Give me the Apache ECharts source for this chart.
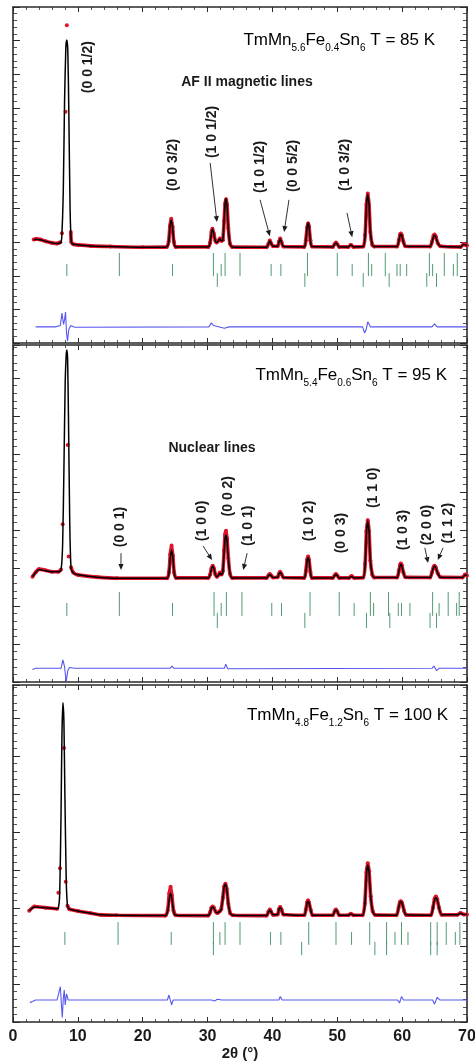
<!DOCTYPE html>
<html>
<head>
<meta charset="utf-8">
<script src="https://cdn.jsdelivr.net/npm/echarts/dist/echarts.min.js"></script>
<style>
  html, body { margin: 0; padding: 0; background: #ffffff; }
  #chart { width: 475px; height: 1061px; }
</style>
</head>
<body>
<div id="chart"></div>
<script>
// ---------- 2θ axis ----------
const X_MIN = 0, X_MAX = 70, X_STEP = 10;
const X_TICK_LABELS = ['0', '10', '20', '30', '40', '50', '60', '70'];
const X_NAME = '2θ (°)';

// ---------- TmMn5.6Fe0.4Sn6, 85 K ----------
const calc85 = [[3.2,307],[3.6,309],[4.2,307],[5.0,303],[6.0,298],[6.8,296],[7.3,298],[7.5,310],[7.75,450],[7.95,720],[8.15,880],[8.3,902],[8.45,870],[8.6,700],[8.8,400],[9.0,300],[9.3,294],[10,292],[12,289],[15,287],[20,285],
  [23.7,286],[24.0,300],[24.2,345],[24.4,366],[24.6,345],[24.8,300],[25.1,286],
  [30.1,286],[30.4,298],[30.6,328],[30.75,339],[30.95,325],[31.2,304],[31.4,299],[31.65,303],[31.9,310],[32.15,304],[32.35,305],[32.55,365],[32.7,415],[32.85,429],[33.0,410],[33.2,340],[33.45,295],[33.8,286],
  [39.1,285],[39.4,295],[39.6,304],[39.8,296],[40.1,288],[40.8,288],[41.0,300],[41.2,310],[41.4,300],[41.7,287],
  [44.9,286],[45.15,305],[45.35,345],[45.5,357],[45.65,345],[45.85,305],[46.1,287],
  [49.3,286],[49.6,294],[49.8,298],[50.0,294],[50.3,286],[51.7,286],[52.1,292],[52.5,286],
  [54.0,287],[54.3,320],[54.5,410],[54.7,443],[54.9,410],[55.1,330],[55.4,292],[55.7,287],
  [59.2,287],[59.5,305],[59.7,322],[59.8,324],[59.95,320],[60.2,300],[60.5,288],
  [64.3,287],[64.6,300],[64.85,318],[65.0,321],[65.2,315],[65.5,297],[65.9,288],
  [69.0,286],[69.5,293],[69.8,292],[70,290]];
const obs85 = [[3.2,308],[3.6,310],[4.2,308],[5.0,303],[6.0,298],[6.8,296],[7.3,300],[7.4,'-'],[7.55,327],[7.8,'-'],[8.1,688],[8.2,'-'],[8.3,946],[8.5,'-'],[8.9,330],[9.0,300],[9.3,294],[10,292],[12,289],[15,287],[20,285],
  [23.7,286],[24.0,302],[24.2,348],[24.4,370],[24.6,346],[24.8,301],[25.1,286],
  [30.1,286],[30.4,299],[30.6,330],[30.75,340],[30.95,326],[31.2,304],[31.4,299],[31.65,304],[31.9,311],[32.15,304],[32.35,306],[32.55,362],[32.7,414],[32.85,428],[33.0,411],[33.2,342],[33.45,296],[33.8,286],
  [39.1,285],[39.4,296],[39.6,305],[39.8,296],[40.1,288],[40.8,288],[41.0,301],[41.2,311],[41.4,300],[41.7,287],
  [44.9,286],[45.15,306],[45.35,344],[45.5,356],[45.65,346],[45.85,306],[46.1,287],
  [49.3,286],[49.6,295],[49.8,299],[50.0,294],[50.3,286],[51.7,286],[52.1,292],[52.5,286],
  [54.0,287],[54.3,322],[54.5,412],[54.7,445],[54.9,411],[55.1,330],[55.4,292],[55.7,287],
  [59.2,287],[59.5,306],[59.7,324],[59.8,326],[59.95,321],[60.2,301],[60.5,288],
  [64.3,287],[64.6,301],[64.85,320],[65.0,323],[65.2,316],[65.5,297],[65.9,288],
  [69.0,286],[69.5,295],[69.8,292],[70,290]];
const diff85 = [[3.5,48],[6.5,48],[7.3,52],[7.55,89],[7.8,55],[7.95,70],[8.1,92],[8.25,30],[8.4,6],[8.6,40],[8.9,52],[9.5,47],[30.2,48],[30.6,60],[30.9,52],[31.2,50],[32.6,44],[32.9,45],[33.3,48],[53.9,48],[54.2,30],[54.45,40],[54.7,63],[55.1,48],[64.6,48],[65.0,57],[65.4,48],[70,48]];
const braggA85 = [16.4, 30.9, 32.7, 35.0, 45.4, 50.0, 54.8, 57.4, 64.2, 66.5, 68.5];
const braggB85 = [8.3, 24.6, 32.1, 39.8, 41.3, 52.3, 55.3, 59.2, 59.7, 60.7, 64.7, 67.9];
const braggC85 = [31.5, 45.0, 54.0, 58.0, 63.8, 65.3];

// ---------- TmMn5.4Fe0.6Sn6, 95 K ----------
const calc95 = [[3.0,277],[3.5,288],[4.0,296],[5.0,293],[6.0,290],[7.0,290],[7.4,294],[7.65,360],[7.85,560],[8.05,790],[8.2,860],[8.3,874],[8.42,850],[8.55,700],[8.75,420],[8.95,300],[9.3,287],[10,282],[13,276],[16,273],
  [23.75,273],[24.05,287],[24.25,328],[24.45,347],[24.65,328],[24.85,287],[25.15,274],
  [30.1,274],[30.4,282],[30.6,298],[30.8,305],[31.0,297],[31.2,283],[31.45,277],[31.7,281],[31.9,287],[32.15,282],[32.35,290],[32.55,340],[32.7,378],[32.85,387],[33.0,372],[33.2,325],[33.45,285],[33.8,274],
  [39.1,274],[39.4,280],[39.6,283],[39.8,280],[40.1,275],[40.8,276],[41.0,284],[41.2,289],[41.4,284],[41.7,275],
  [44.9,274],[45.15,290],[45.35,320],[45.5,328],[45.65,320],[45.85,290],[46.1,274],
  [49.3,274],[49.6,280],[49.8,283],[50.0,280],[50.3,274],[51.8,274],[52.2,278],[52.6,274],
  [54.0,275],[54.3,310],[54.5,395],[54.7,424],[54.9,395],[55.1,320],[55.4,282],[55.7,275],
  [59.2,275],[59.5,292],[59.7,307],[59.8,310],[59.95,306],[60.2,288],[60.5,276],
  [64.3,275],[64.6,288],[64.85,302],[65.0,305],[65.2,300],[65.5,286],[65.9,276],
  [69.3,275],[69.7,282],[70,280]];
const obs95 = [[3.0,277],[3.5,289],[4.0,297],[5.0,294],[6.0,290],[7.0,290],[7.4,296],[7.5,'-'],[7.66,415],[8.0,'-'],[8.43,624],[8.48,'-'],[8.58,330],[8.7,'-'],[8.95,302],[9.3,288],[10,282],[13,276],[16,273],
  [23.75,273],[24.05,289],[24.25,336],[24.45,359],[24.65,332],[24.85,288],[25.15,274],
  [30.1,274],[30.4,283],[30.6,299],[30.8,306],[31.0,298],[31.2,283],[31.45,277],[31.7,282],[31.9,288],[32.15,283],[32.35,292],[32.55,346],[32.7,388],[32.85,398],[33.0,378],[33.2,326],[33.45,285],[33.8,274],
  [39.1,274],[39.4,281],[39.6,284],[39.8,280],[40.1,275],[40.8,276],[41.0,285],[41.2,290],[41.4,284],[41.7,275],
  [44.9,274],[45.15,292],[45.35,322],[45.5,330],[45.65,321],[45.85,290],[46.1,274],
  [49.3,274],[49.6,281],[49.8,284],[50.0,280],[50.3,274],[51.8,274],[52.2,279],[52.6,274],
  [54.0,275],[54.3,312],[54.5,397],[54.7,426],[54.9,396],[55.1,320],[55.4,282],[55.7,275],
  [59.2,275],[59.5,293],[59.7,309],[59.8,312],[59.95,307],[60.2,288],[60.5,276],
  [64.3,275],[64.6,289],[64.85,303],[65.0,306],[65.2,301],[65.5,286],[65.9,276],
  [69.3,275],[69.7,283],[70,280]];
const diff95 = [[3.0,33],[3.5,36],[7.4,36],[7.7,58],[7.95,40],[8.2,1],[8.45,30],[8.7,38],[9.5,36],[24.2,36],[24.5,42],[24.8,36],[30.6,36],[30.8,40],[31.3,36],[32.6,36],[32.8,47],[33.1,35],[33.4,36],[64.6,36],[64.9,42],[65.3,30],[65.7,36],[70,36]];
const braggA95 = [16.4, 31.0, 32.9, 35.3, 45.8, 50.3, 55.1, 57.9, 64.7, 67.1, 68.8];
const braggB95 = [8.3, 24.6, 32.1, 39.9, 41.4, 52.6, 55.6, 59.4, 59.9, 61.2, 65.7, 68.4];
const braggC95 = [31.5, 45.0, 54.5, 58.1, 64.3, 65.3];

// ---------- TmMn4.8Fe1.2Sn6, 100 K ----------
const calc100 = [[2.5,293],[3.3,303],[5.0,301],[6.8,298],[7.0,300],[7.2,335],[7.4,540],[7.55,760],[7.7,840],[7.85,790],[8.0,600],[8.2,380],[8.4,305],[8.7,297],[10,292],[12,286],[13.5,282],[16,281],
  [23.5,280],[23.85,292],[24.1,325],[24.3,338],[24.5,325],[24.75,292],[25.1,281],
  [30.1,280],[30.4,288],[30.6,300],[30.8,303],[31.0,299],[31.25,290],[31.5,287],[31.7,289],[31.9,291],[32.1,296],[32.35,325],[32.55,355],[32.75,363],[32.95,350],[33.2,310],[33.5,286],[33.9,281],
  [39.1,280],[39.4,290],[39.6,295],[39.8,290],[40.1,282],[40.8,283],[41.0,296],[41.2,302],[41.4,296],[41.7,283],
  [44.9,281],[45.15,295],[45.35,313],[45.5,318],[45.65,313],[45.9,295],[46.2,281],
  [49.3,281],[49.6,291],[49.8,295],[50.0,291],[50.3,281],[51.7,281],[52.1,284],[52.5,281],
  [53.9,281],[54.25,310],[54.5,390],[54.7,413],[54.9,395],[55.15,330],[55.45,292],[55.8,282],
  [59.1,281],[59.45,300],[59.65,314],[59.8,317],[60.0,312],[60.3,293],[60.6,282],
  [64.4,281],[64.75,300],[65.0,322],[65.2,328],[65.4,322],[65.7,300],[66.1,282],
  [68.5,282],[69.0,286],[69.5,283],[70,283]];
const obs100 = [[2.5,293],[3.3,304],[5.0,301],[6.8,298],[6.9,'-'],[7.0,340],[7.1,'-'],[7.25,405],[7.5,'-'],[7.87,721],[8.0,'-'],[8.13,369],[8.25,'-'],[8.4,306],[8.7,297],[10,292],[12,286],[13.5,282],[16,281],
  [23.5,280],[23.85,294],[24.1,338],[24.3,356],[24.5,332],[24.75,293],[25.1,281],
  [30.1,280],[30.4,289],[30.6,301],[30.8,304],[31.0,300],[31.25,290],[31.5,287],[31.7,289],[31.9,292],[32.1,297],[32.35,327],[32.55,356],[32.75,364],[32.95,351],[33.2,311],[33.5,286],[33.9,281],
  [39.1,280],[39.4,291],[39.6,296],[39.8,290],[40.1,282],[40.8,283],[41.0,297],[41.2,303],[41.4,296],[41.7,283],
  [44.9,281],[45.15,296],[45.35,315],[45.5,320],[45.65,314],[45.9,295],[46.2,281],
  [49.3,281],[49.6,292],[49.8,296],[50.0,291],[50.3,281],[51.7,281],[52.1,285],[52.5,281],
  [53.9,281],[54.25,312],[54.5,394],[54.7,418],[54.9,397],[55.15,331],[55.45,292],[55.8,282],
  [59.1,281],[59.45,301],[59.65,316],[59.8,318],[60.0,313],[60.3,293],[60.6,282],
  [64.4,281],[64.75,301],[65.0,324],[65.2,330],[65.4,323],[65.7,300],[66.1,282],
  [68.5,282],[69.0,287],[69.5,283],[70,283]];
const diff100 = [[2.6,51],[3.0,54],[3.5,58],[6.8,58],[7.05,63],[7.3,93],[7.45,50],[7.6,12],[7.75,60],[7.9,84],[8.05,45],[8.25,74],[8.5,58],[23.8,58],[24.05,71],[24.3,55],[24.45,45],[24.7,58],[30.6,58],[30.8,62],[31.1,55],[31.5,60],[31.8,56],[32.2,58],[41.0,58],[41.2,67],[41.5,58],[54.3,58],[54.6,63],[54.9,58],[59.3,58],[59.6,50],[59.9,67],[60.2,58],[64.7,58],[65.0,47],[65.4,65],[65.8,58],[70,58]];
const braggA100 = [16.2, 30.9, 32.7, 35.0, 45.6, 49.8, 55.0, 57.6, 59.9, 64.4, 65.4, 66.8, 68.9];
const braggB100 = [8.0, 24.4, 31.9, 39.7, 41.3, 52.2, 58.9, 60.9, 68.2];
const braggC100 = [30.9, 44.5, 55.8, 57.6, 64.4, 65.4];

// ---------- reflection labels ----------
const hkl85 = ['(0 0 1/2)', '(0 0 3/2)', '(1 0 1/2)', '(1 0 1/2)', '(0 0 5/2)', '(1 0 3/2)'];
const hkl95 = ['(0 0 1)', '(1 0 0)', '(0 0 2)', '(1 0 1)', '(1 0 2)', '(0 0 3)', '(1 1 0)', '(1 0 3)', '(2 0 0)', '(1 1 2)'];

// ---------- panel layout (label anchors in 2θ / intensity units) ----------
const layout = [
  { top: 7, height: 336, yMax: 1000,
    title: ['5.6', '0.4', '85'], titleX: 435, titleY: 40,
    note: 'AF II magnetic lines', noteX: 247, noteY: 82,
    rows: [[199, 268], [199, 235], [167, 208]],
    hklAt: [[11.6,821],[24.7,530],[30.7,628],[38.1,524],[43.2,527],[51.2,530]],
    arrows: [[30.4,536,31.45,360],[38.1,426,39.6,318],[42.55,426,41.8,330],[51.5,387,52.3,315]] },
  { top: 345, height: 337, yMax: 887,
    title: ['5.4', '0.6', '95'], titleX: 447, titleY: 375,
    note: 'Nuclear lines', noteX: 212, noteY: 448,
    rows: [[174, 237], [174, 208], [142, 182]],
    hklAt: [[16.5,408],[29.1,424],[33.1,489],[36.2,411],[45.6,424],[50.6,392],[55.5,511],[60.1,400],[63.8,413],[67.1,418]],
    arrows: [[16.65,339,16.65,295],[29.3,358,30.7,321],[36.1,339,35.5,295],[63.5,353,64.0,313],[66.3,353,65.5,321]] },
  { top: 685, height: 337, yMax: 887,
    title: ['4.8', '1.2', '100'], titleX: 448, titleY: 715,
    note: null,
    rows: [[203, 263], [203, 237], [176, 211]],
    hklAt: [], arrows: [] }
];

const panelData = [
  { calc: calc85, obs: obs85, diff: diff85, bragg: [braggA85, braggB85, braggC85], hkl: hkl85 },
  { calc: calc95, obs: obs95, diff: diff95, bragg: [braggA95, braggB95, braggC95], hkl: hkl95 },
  { calc: calc100, obs: obs100, diff: diff100, bragg: [braggA100, braggB100, braggC100], hkl: [] }
];

const FONT = '"Liberation Sans", Arial, sans-serif';
const INK = '#1a1a1a';
const FRAME = '#2a2a2a';

const grids = [], xAxes = [], yAxes = [], series = [], graphics = [];

function axisCommon() {
  return {
    axisLine: { show: true, onZero: false, lineStyle: { color: FRAME, width: 1.6 } },
    splitLine: { show: false },
    minorSplitLine: { show: false }
  };
}

layout.forEach((L, p) => {
  const D = panelData[p];
  const last = p === layout.length - 1;
  grids.push({ left: 13, right: 8, top: L.top, height: L.height, containLabel: false, outerBoundsMode: 'none' });

  ['bottom', 'top'].forEach((pos) => {
    const showLabels = last && pos === 'bottom';
    xAxes.push(Object.assign(axisCommon(), {
      type: 'value', gridIndex: p, position: pos, min: X_MIN, max: X_MAX, interval: X_STEP,
      axisTick: { show: true, inside: true, length: 5, lineStyle: { color: FRAME, width: 1 } },
      minorTick: { show: true, splitNumber: 5, length: 3, lineStyle: { color: FRAME, width: 0.8 } },
      axisLabel: {
        show: showLabels, margin: 7, color: INK, fontFamily: FONT, fontWeight: 'bold', fontSize: 16,
        formatter: (v) => X_TICK_LABELS[Math.round((v - X_MIN) / X_STEP)] || ''
      },
      name: showLabels ? X_NAME : '', nameLocation: 'middle', nameGap: 23,
      nameTextStyle: { color: INK, fontFamily: FONT, fontWeight: 'bold', fontSize: 15 }
    }));
  });

  ['left', 'right'].forEach((pos) => {
    yAxes.push(Object.assign(axisCommon(), {
      type: 'value', gridIndex: p, position: pos, min: 0, max: L.yMax, interval: 100,
      axisTick: { show: true, inside: true, length: 7, lineStyle: { color: FRAME, width: 1 } },
      minorTick: { show: true, splitNumber: 5, length: 4, lineStyle: { color: FRAME, width: 0.8 } },
      axisLabel: { show: false }
    }));
  });

  const xi = 2 * p, yi = 2 * p;

  // Bragg reflection markers, three rows
  D.bragg.forEach((list, r) => {
    const row = L.rows[r];
    series.push({
      type: 'custom', xAxisIndex: xi, yAxisIndex: yi, silent: true, z: 2,
      data: list.map((t) => [t, row[0]]),
      renderItem: (params, api) => {
        const t = api.value(0);
        const a = api.coord([t, row[1]]);
        const b = api.coord([t, row[0]]);
        return { type: 'line', shape: { x1: a[0], y1: a[1], x2: b[0], y2: b[1] },
                 style: { stroke: '#3f8f62', lineWidth: 1, opacity: 0.9 } };
      }
    });
  });

  // difference curve
  series.push({
    type: 'line', xAxisIndex: xi, yAxisIndex: yi, data: D.diff, showSymbol: false, z: 3,
    lineStyle: { color: '#5656f0', width: 1.1 }, animation: false
  });
  // observed
  series.push({
    type: 'line', xAxisIndex: xi, yAxisIndex: yi, data: D.obs, z: 4, smooth: 0.2,
    showSymbol: true, showAllSymbol: true, symbol: 'circle', symbolSize: 4,
    itemStyle: { color: '#e0142a' }, lineStyle: { color: '#e0142a', width: 3.6 },
    connectNulls: false, animation: false
  });
  // calculated
  series.push({
    type: 'line', xAxisIndex: xi, yAxisIndex: yi, data: D.calc, showSymbol: false, z: 5, smooth: 0.2,
    lineStyle: { color: '#000000', width: 1.5 }, animation: false
  });

  // reflection labels (rotated)
  if (D.hkl.length) {
    series.push({
      type: 'custom', xAxisIndex: xi, yAxisIndex: yi, silent: true, z: 6,
      data: L.hklAt,
      renderItem: (params, api) => {
        const c = api.coord([api.value(0), api.value(1)]);
        return { type: 'text', x: c[0], y: c[1], rotation: Math.PI / 2,
                 style: { text: D.hkl[params.dataIndex], fill: INK, font: 'bold 14px ' + FONT,
                          align: 'center', verticalAlign: 'middle' } };
      }
    });
  }
  if (L.arrows.length) {
    series.push({
      type: 'custom', xAxisIndex: xi, yAxisIndex: yi, silent: true, z: 6,
      data: L.arrows,
      renderItem: (params, api) => {
        const s = api.coord([api.value(0), api.value(1)]);
        const e = api.coord([api.value(2), api.value(3)]);
        const ang = Math.atan2(e[1] - s[1], e[0] - s[0]);
        const hl = 6, hw = 2.6;
        const bx = e[0] - hl * Math.cos(ang), by = e[1] - hl * Math.sin(ang);
        const nx = -Math.sin(ang) * hw, ny = Math.cos(ang) * hw;
        return { type: 'group', children: [
          { type: 'line', shape: { x1: s[0], y1: s[1], x2: bx, y2: by }, style: { stroke: INK, lineWidth: 0.9 } },
          { type: 'polygon', shape: { points: [[e[0], e[1]], [bx + nx, by + ny], [bx - nx, by - ny]] }, style: { fill: INK } }
        ] };
      }
    });
  }

  // composition and temperature
  const t = L.title;
  graphics.push({
    type: 'text', x: L.titleX, y: L.titleY, z: 10,
    style: {
      text: '{a|TmMn}{s|' + t[0] + '}{a|Fe}{s|' + t[1] + '}{a|Sn}{s|6}{a| T = ' + t[2] + ' K}',
      align: 'right', verticalAlign: 'middle',
      rich: {
        a: { fontFamily: FONT, fontSize: 17, color: '#2b2b2b', lineHeight: 26 },
        s: { fontFamily: FONT, fontSize: 10, color: '#8a8a8a', lineHeight: 10, verticalAlign: 'bottom' }
      }
    }
  });
  if (L.note) {
    graphics.push({
      type: 'text', x: L.noteX, y: L.noteY, z: 10,
      style: { text: L.note, fill: INK, font: 'bold 14px ' + FONT, align: 'center', verticalAlign: 'middle' }
    });
  }
});

const chart = echarts.init(document.getElementById('chart'), null, { renderer: 'canvas' });
chart.setOption({
  animation: false,
  backgroundColor: '#ffffff',
  grid: grids,
  xAxis: xAxes,
  yAxis: yAxes,
  series: series,
  graphic: graphics
});
</script>
</body>
</html>
